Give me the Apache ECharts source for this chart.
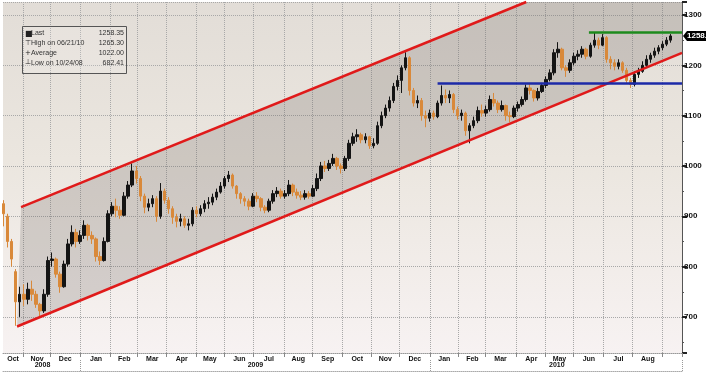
<!DOCTYPE html>
<html><head><meta charset="utf-8">
<script src="https://cdn.jsdelivr.net/npm/echarts@6/dist/echarts.min.js"></script>
<style>html,body{margin:0;padding:0;background:#fff}#c{width:706px;height:373px}</style>
</head><body><div id="c"></div>
<script>
// ---- data ----
const startDate = '2008-10-13';      // first weekday on the axis
const dayCount = 507;                // weekdays on the axis (through Sep 2010)
const sampleStep = 3;                // one bar drawn every 3 trading days
// [open, close, low, high]
const ohlc = [
[925,905,880,932],[900,850,838,905],[850,815,800,855],[790,730,682.41,795],[730,745,700,760],
[745,735,722,765],[735,755,725,768],[755,745,732,772],[745,725,718,752],[725,712,700,728],
[712,745,708,755],[745,812,740,820],[812,815,800,828],[815,785,778,818],[785,760,748,790],
[760,805,758,812],[805,845,800,855],[845,868,840,882],[868,850,838,875],[850,862,845,872],
[862,882,855,892],[882,862,852,885],[862,855,845,870],[855,820,810,858],[820,812,803,830],
[812,850,810,858],[850,905,848,912],[905,920,900,928],[920,912,898,935],[912,902,895,920],
[902,940,900,948],[940,962,935,970],[962,990,958,1005],[990,975,965,1000],[975,940,930,980],
[940,918,906,945],[918,925,910,935],[925,935,918,942],[935,900,889,940],[900,950,895,966],
[950,932,925,955],[932,915,905,938],[915,898,885,920],[898,890,878,905],[890,895,880,905],
[895,882,877,900],[882,885,872,895],[885,912,880,918],[912,905,898,920],[905,915,900,922],
[915,925,908,932],[925,928,915,938],[928,938,922,945],[938,948,932,955],[948,960,945,968],
[960,975,955,980],[975,982,968,990],[982,960,955,985],[960,945,935,962],[945,935,925,948],
[935,930,920,940],[930,920,912,935],[920,940,918,946],[940,935,928,948],[935,918,910,938],
[918,912,906,922],[912,930,908,935],[930,945,925,952],[945,950,938,958],[950,940,935,955],
[940,945,935,952],[945,962,940,972],[962,948,940,965],[948,942,935,955],[942,938,932,950],
[938,945,933,952],[945,940,935,950],[940,955,938,962],[955,975,950,985],[975,1000,970,1008],
[1000,995,988,1010],[995,1005,990,1012],[1005,1015,1000,1024],[1015,1000,992,1018],[1000,995,985,1005],
[995,1015,990,1020],[1015,1045,1010,1052],[1045,1058,1040,1066],[1058,1062,1048,1073],[1062,1052,1045,1066],
[1052,1058,1045,1065],[1058,1040,1034,1060],[1040,1045,1035,1055],[1045,1080,1042,1088],[1080,1100,1075,1108],
[1100,1115,1095,1122],[1115,1130,1108,1138],[1130,1158,1125,1165],[1158,1170,1150,1180],[1170,1195,1145,1200],
[1195,1215,1190,1226],[1215,1150,1140,1218],[1150,1125,1118,1155],[1125,1130,1115,1140],[1130,1100,1090,1135],
[1100,1095,1077,1110],[1095,1105,1088,1112],[1105,1098,1092,1110],[1098,1125,1095,1130],[1125,1140,1120,1160],
[1140,1135,1125,1152],[1135,1142,1125,1150],[1142,1112,1105,1145],[1112,1100,1092,1118],[1100,1105,1090,1112],
[1105,1070,1060,1108],[1070,1080,1045,1085],[1080,1090,1075,1098],[1090,1110,1085,1118],[1110,1105,1098,1122],
[1105,1112,1098,1120],[1112,1132,1108,1140],[1132,1125,1118,1145],[1125,1112,1105,1130],[1112,1120,1108,1130],
[1120,1100,1090,1122],[1100,1098,1087,1108],[1098,1115,1095,1120],[1115,1122,1108,1128],[1122,1132,1118,1138],
[1132,1155,1128,1162],[1155,1150,1142,1165],[1150,1135,1128,1152],[1135,1148,1130,1155],[1148,1160,1145,1165],
[1160,1172,1155,1178],[1172,1185,1168,1192],[1185,1225,1180,1232],[1225,1232,1215,1246],[1232,1195,1190,1235],
[1195,1190,1177,1200],[1190,1205,1185,1212],[1205,1218,1200,1225],[1218,1222,1210,1230],[1222,1232,1215,1238],
[1232,1218,1212,1235],[1218,1240,1215,1245],[1240,1250,1235,1265.3],[1250,1240,1232,1255],[1240,1255,1238,1262],
[1255,1212,1205,1258],[1212,1205,1192,1218],[1205,1198,1190,1212],[1198,1205,1192,1212],[1205,1190,1185,1208],
[1190,1170,1165,1195],[1170,1162,1155,1175],[1162,1182,1158,1188],[1182,1188,1175,1195],[1188,1200,1185,1208],
[1200,1212,1195,1220],[1212,1220,1205,1225],[1220,1228,1215,1235],[1228,1235,1222,1240],[1235,1242,1230,1248],
[1242,1250,1238,1256],[1250,1258.35,1245,1262]
];
// trend channel & levels: [axis index, price]
const channelLower = [[10, 681], [506, 1224]];
const channelUpper = [[13, 918], [506, 1451]];
const supportLine = [[324, 1164], [506, 1164]];
const highLine = [[437, 1265.3], [506, 1265.3]];
const lastPrice = 1258.35;
const yMin = 628.3, yMax = 1325.8;
const monthNames = ['Jan','Feb','Mar','Apr','May','Jun','Jul','Aug','Sep','Oct','Nov','Dec'];
const legendNames = ['Last', 'High on 06/21/10', 'Average', 'Low on 10/24/08'];
const legendValues = ['1258.35', '1265.30', '1022.00', '682.41'];
const legendIcons = ['\u25A0', '\u22A4', '+', '\u22A5'];

// ---- axis calendar (weekdays) ----
const days = [];
{
  let d = new Date(startDate + 'T00:00:00Z');
  while (days.length < dayCount) {
    const wd = d.getUTCDay();
    if (wd !== 0 && wd !== 6) days.push(d.toISOString().slice(0, 10));
    d = new Date(d.getTime() + 86400000);
  }
}
const ym = s => s.slice(0, 7);
const isMonthStart = days.map((s, i) => i > 0 && ym(s) !== ym(days[i - 1]));
const isYearStart = days.map((s, i) => i > 0 && s.slice(0, 4) !== days[i - 1].slice(0, 4));
function spanCenters(keyFn) {
  const spans = [];
  days.forEach((s, i) => {
    const k = keyFn(s);
    if (!spans.length || spans[spans.length - 1].k !== k) spans.push({k, a: i, b: i});
    else spans[spans.length - 1].b = i;
  });
  return spans;
}
const monthSpans = spanCenters(ym);
const monthLabelIdx = new Set(monthSpans.slice(0, -1).map(s => Math.round((s.a + s.b) / 2)));
const yearSpans = spanCenters(s => s.slice(0, 4));
const yearLabelIdx = new Set(yearSpans.map(s => Math.round((s.a + s.b) / 2)));

const candleData = ohlc.map((v, k) => [k * sampleStep, v[0], v[1], v[2], v[3]]);

const chart = echarts.init(document.getElementById('c'), null, {renderer: 'canvas'});

function atX(p, q, x) { return [x, p[1] + (q[1] - p[1]) * (x - p[0]) / (q[0] - p[0])]; }
function atY(p, q, y) { return [p[0] + (q[0] - p[0]) * (y - p[1]) / (q[1] - p[1]), y]; }
function geom(params, api) {
  const cs = params.coordSys;
  const right = cs.x + cs.width, top = cs.y;
  const ls = api.coord(channelLower[0]), le = atX(ls, api.coord(channelLower[1]), right);
  const us = api.coord(channelUpper[0]), ueRaw = api.coord(channelUpper[1]);
  let upper, poly;
  const ue = atX(us, ueRaw, right);
  if (ue[1] < top) {
    const xi = atY(us, ueRaw, top);
    upper = [us, xi];
    poly = [ls, le, [right, top], xi, us];
  } else {
    upper = [us, ue];
    poly = [ls, le, ue, us];
  }
  const sA = api.coord(supportLine[0]); const sB = [right, api.coord(supportLine[1])[1]];
  const hA = api.coord(highLine[0]); const hB = [right, api.coord(highLine[1])[1]];
  const lastY = api.coord([0, lastPrice])[1];
  return {ls, le, upper, poly, sA, sB, hA, hB, right, lastY};
}

const lblFont = {fontFamily: 'Liberation Sans', fontSize: 7, fontWeight: 'bold', color: '#111'};

const graphics = [{
  type: 'rect', left: 22, top: 26, shape: {width: 104, height: 47},
  style: {fill: 'rgba(255,255,255,0.15)', stroke: '#555', lineWidth: 1}, z: 100
}];
legendNames.forEach((n, i) => {
  const y = 30 + i * 9.7;
  graphics.push({type: 'text', left: 25, top: y, z: 101,
    style: {text: legendIcons[i], font: (i === 0 ? '8px' : '7px') + ' "DejaVu Sans"', fill: '#222'}});
  graphics.push({type: 'text', left: 31, top: y, z: 101,
    style: {text: n, font: '7px "Liberation Sans"', fill: '#333'}});
  graphics.push({type: 'text', right: 706 - 124, top: y, z: 101,
    style: {text: legendValues[i], font: '7px "Liberation Sans"', fill: '#333', textAlign: 'right'}});
});

chart.setOption({
  animation: false,
  backgroundColor: '#fff',
  grid: {left: 3, right: 24, top: 2, bottom: 20, show: true, borderWidth: 0,
    backgroundColor: new echarts.graphic.LinearGradient(0, 0, 0, 1, [
      {offset: 0, color: '#e2ddd7'}, {offset: 0.45, color: '#ebe6df'}, {offset: 1, color: '#f7f2f2'}])},
  xAxis: [{
    type: 'category', data: days, position: 'bottom', boundaryGap: true,
    axisLine: {show: true, lineStyle: {color: '#999', type: 'dotted', width: 1}},
    axisTick: {show: true, interval: i => isMonthStart[i], length: 4, lineStyle: {color: '#888'}},
    axisLabel: {show: true, interval: i => monthLabelIdx.has(i), margin: 3,
      formatter: v => monthNames[+v.slice(5, 7) - 1], ...lblFont},
    splitLine: {show: true, interval: i => isMonthStart[i], lineStyle: {color: '#a8a8a8', type: 'dotted', width: 1}}
  }, {
    type: 'category', data: days, position: 'bottom', offset: 18, boundaryGap: true,
    axisLine: {show: true, lineStyle: {color: '#aaa', type: 'dotted', width: 1}},
    axisTick: {show: true, inside: true, interval: i => isYearStart[i], length: 12, lineStyle: {color: '#999', type: 'dotted'}},
    axisLabel: {show: true, inside: true, interval: i => yearLabelIdx.has(i), margin: 2,
      formatter: v => v.slice(0, 4), ...lblFont},
    splitLine: {show: false}
  }],
  yAxis: {
    type: 'value', position: 'right', min: yMin, max: yMax, splitNumber: 7,
    axisLine: {show: true, lineStyle: {color: '#555', width: 1}},
    axisTick: {show: true, length: 5, lineStyle: {color: '#222', width: 2}},
    minorTick: {show: true, splitNumber: 2, length: 2, lineStyle: {color: '#555'}},
    axisLabel: {margin: 2, fontFamily: 'Liberation Sans', fontSize: 8, fontWeight: 'bold', color: '#111',
      showMinLabel: false, showMaxLabel: false,
      formatter: v => (Math.abs(v % 100) < 1e-6 ? String(Math.round(v)) : '')},
    splitLine: {show: true, lineStyle: {color: '#a8a8a8', type: 'dotted', width: 1}}
  },
  graphic: graphics,
  series: [{
    type: 'custom', silent: true, z: 1, data: [[0, 700]],
    renderItem: (params, api) => {
      const g = geom(params, api);
      return {type: 'polygon', shape: {points: g.poly}, style: {fill: 'rgba(110,100,95,0.24)'}};
    }
  }, {
    type: 'candlestick', z: 2, data: candleData, encode: {x: 0, y: [1, 2, 3, 4]},
    barWidth: 3,
    itemStyle: {color: '#141414', color0: '#d9893a', borderColor: '#141414', borderColor0: '#d9893a', borderWidth: 1}
  }, {
    type: 'custom', silent: true, z: 3, data: [[0, 700]], clip: false,
    renderItem: (params, api) => {
      const g = geom(params, api);
      return {type: 'group', children: [
        {type: 'polyline', shape: {points: [g.ls, g.le]}, style: {stroke: '#e01a1a', lineWidth: 2.5, fill: null}},
        {type: 'polyline', shape: {points: g.upper}, style: {stroke: '#e01a1a', lineWidth: 2.5, fill: null}},
        {type: 'polyline', shape: {points: [g.sA, g.sB]}, style: {stroke: '#1c2aa8', lineWidth: 2.5, fill: null}},
        {type: 'polyline', shape: {points: [g.hA, g.hB]}, style: {stroke: '#1d8a1d', lineWidth: 2.5, fill: null}},
        {type: 'polygon', shape: {points: [[g.right + 1, g.lastY], [g.right + 5, g.lastY - 5], [g.right + 30, g.lastY - 5], [g.right + 30, g.lastY + 5], [g.right + 5, g.lastY + 5]]},
          style: {fill: '#000'}},
        {type: 'text', x: g.right + 5, y: g.lastY, style: {text: String(lastPrice), fill: '#fff',
          font: 'bold 8px "Liberation Sans"', textVerticalAlign: 'middle', verticalAlign: 'middle'}}
      ]};
    }
  }]
});
</script></body></html>
